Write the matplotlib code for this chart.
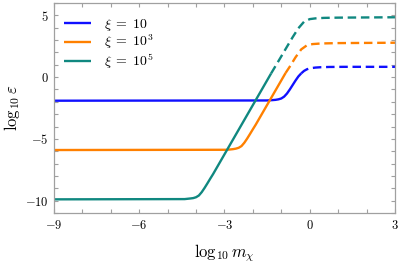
import matplotlib
matplotlib.use('Agg')
import matplotlib.pyplot as plt
from matplotlib.ticker import MultipleLocator, FuncFormatter

plt.rcParams['mathtext.fontset'] = 'cm'
plt.rcParams['font.family'] = ['DejaVu Serif']

# curves: (log10 m, log10 eps), solid part then dashed part
xi10_solid_x = [-9, -1.5, -1.3, -1.2, -1.1, -1.0, -0.9, -0.8, -0.7, -0.6, -0.5, -0.4, -0.3]
xi10_solid_y = [-1.91, -1.89, -1.86, -1.84, -1.80, -1.73, -1.58, -1.33, -1.0, -0.64, -0.28, 0.05, 0.3]
xi10_dash_x = [-0.3, -0.2, -0.1, 0.0, 0.2, 0.4, 0.7, 1.2, 3]
xi10_dash_y = [0.3, 0.5, 0.63, 0.71, 0.77, 0.80, 0.82, 0.83, 0.83]

xi1e3_solid_x = [-9, -2.9, -2.7, -2.6, -2.5, -2.4, -2.3, -2.2, -2.1, -2.0, -1.9, -0.85]
xi1e3_solid_y = [-5.9, -5.88, -5.83, -5.79, -5.72, -5.58, -5.31, -4.97, -4.60, -4.22, -3.85, 0.33]
xi1e3_dash_x = [-0.85, -0.7, -0.5, -0.3, -0.1, 0.1, 0.4, 1.0, 3]
xi1e3_dash_y = [0.33, 0.85, 1.60, 2.24, 2.57, 2.67, 2.72, 2.75, 2.78]

xi1e5_solid_x = [-9, -4.4, -4.2, -4.1, -4.0, -3.9, -3.8, -3.7, -3.6, -3.5, -3.4, -1.36]
xi1e5_solid_y = [-9.89, -9.87, -9.82, -9.79, -9.72, -9.58, -9.31, -8.97, -8.60, -8.22, -7.85, 0.29]
xi1e5_dash_x = [-1.36, -1.0, -0.8, -0.6, -0.4, -0.2, 0.0, 0.2, 0.5, 1.0, 3]
xi1e5_dash_y = [0.29, 1.68, 2.46, 3.23, 3.95, 4.48, 4.69, 4.75, 4.79, 4.81, 4.84]

labels = [r'$\xi\;=\;10$', r'$\xi\;=\;10^3$', r'$\xi\;=\;10^5$']
colors = ['#1010ff', '#ff8000', '#108880']

fig = plt.figure(figsize=(3.99, 2.66), dpi=100)
ax = fig.add_axes([0.135, 0.199, 0.855, 0.790])

curves = [
    (xi10_solid_x, xi10_solid_y, xi10_dash_x, xi10_dash_y),
    (xi1e3_solid_x, xi1e3_solid_y, xi1e3_dash_x, xi1e3_dash_y),
    (xi1e5_solid_x, xi1e5_solid_y, xi1e5_dash_x, xi1e5_dash_y),
]
for (sx, sy, dx, dy), lab, c in zip(curves, labels, colors):
    ax.plot(sx, sy, color=c, lw=1.7, label=lab, solid_capstyle='butt')
    ax.plot(dx, dy, color=c, lw=1.7, linestyle=(0, (3.6, 2.0)))

ax.set_xlim(-9, 3)
ax.set_ylim(-11, 6)
ax.xaxis.set_major_locator(MultipleLocator(3))
ax.xaxis.set_minor_locator(MultipleLocator(1))
ax.yaxis.set_major_locator(MultipleLocator(5))
ax.yaxis.set_minor_locator(MultipleLocator(1))
fmt = FuncFormatter(lambda v, p: r'$%d$' % round(v))
ax.xaxis.set_major_formatter(fmt)
ax.yaxis.set_major_formatter(fmt)

for s in ax.spines.values():
    s.set_color('#a0a0a0')
    s.set_linewidth(0.9)
ax.tick_params(which='both', direction='in', top=True, right=True,
               color='#a0a0a0', length=2.6, width=0.8)
ax.tick_params(which='major', labelsize=9, pad=4)

ax.set_xlabel(r'$\log_{10} m_\chi$', fontsize=12, labelpad=8)
ax.set_ylabel(r'$\log_{10} \varepsilon$', fontsize=12, labelpad=2)

ax.legend(loc='upper left', frameon=False, fontsize=10, handlelength=2.0,
          handletextpad=0.9, borderaxespad=0.3, labelspacing=0.0,
          bbox_to_anchor=(0.0, 0.98))

fig.savefig('out.png', dpi=100)
